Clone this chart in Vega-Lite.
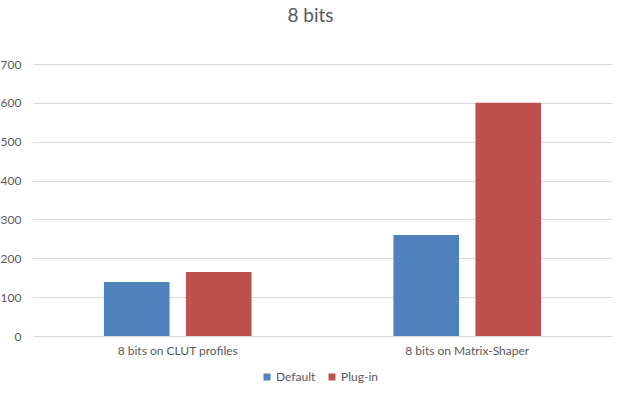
{
  "$schema": "https://vega.github.io/schema/vega-lite/v6.json",
  "width": 579,
  "height": 272,
  "autosize": {"type": "none"},
  "padding": {"left": 33, "top": 64, "right": 10, "bottom": 59},
  "background": "white",
  "title": {"text": "8 bits", "fontSize": 19, "font": "Lato", "fontWeight": "normal", "color": "#595959", "offset": 32, "dx": -12},
  "data": {"values": [
    {"category": "8 bits on CLUT profiles", "series": "Default", "value": 139},
    {"category": "8 bits on CLUT profiles", "series": "Plug-in", "value": 165},
    {"category": "8 bits on Matrix-Shaper", "series": "Default", "value": 260},
    {"category": "8 bits on Matrix-Shaper", "series": "Plug-in", "value": 600}
  ]},
  "mark": {"type": "bar"},
  "encoding": {
    "x": {"field": "category", "type": "nominal", "sort": null,
      "scale": {"paddingInner": 0.49, "paddingOuter": 0.245},
      "axis": {"title": null, "labelAngle": 0, "ticks": false, "domainColor": "#d9d9d9", "labelColor": "#595959", "labelFont": "Lato", "labelFontSize": 12, "labelPadding": 9}},
    "xOffset": {"field": "series", "type": "nominal", "scale": {"paddingInner": 0.2, "paddingOuter": 0}},
    "y": {"field": "value", "type": "quantitative",
      "scale": {"domain": [0, 700], "nice": false},
      "axis": {"title": null, "values": [0,100,200,300,400,500,600,700], "domain": false, "ticks": false, "gridColor": "#d9d9d9", "labelColor": "#595959", "labelFont": "Lato", "labelFontSize": 12, "labelPadding": 12}},
    "color": {"field": "series", "type": "nominal",
      "scale": {"domain": ["Default", "Plug-in"], "range": ["#4f81bd", "#c0504d"]},
      "legend": {"title": null, "orient": "none", "direction": "horizontal", "legendX": 228, "legendY": 307, "symbolType": "square", "symbolSize": 49, "symbolStrokeWidth": 0, "labelColor": "#595959", "labelFont": "Lato", "labelFontSize": 12, "columnPadding": 10, "labelOffset": 3}}
  },
  "config": {"view": {"stroke": null}}
}
